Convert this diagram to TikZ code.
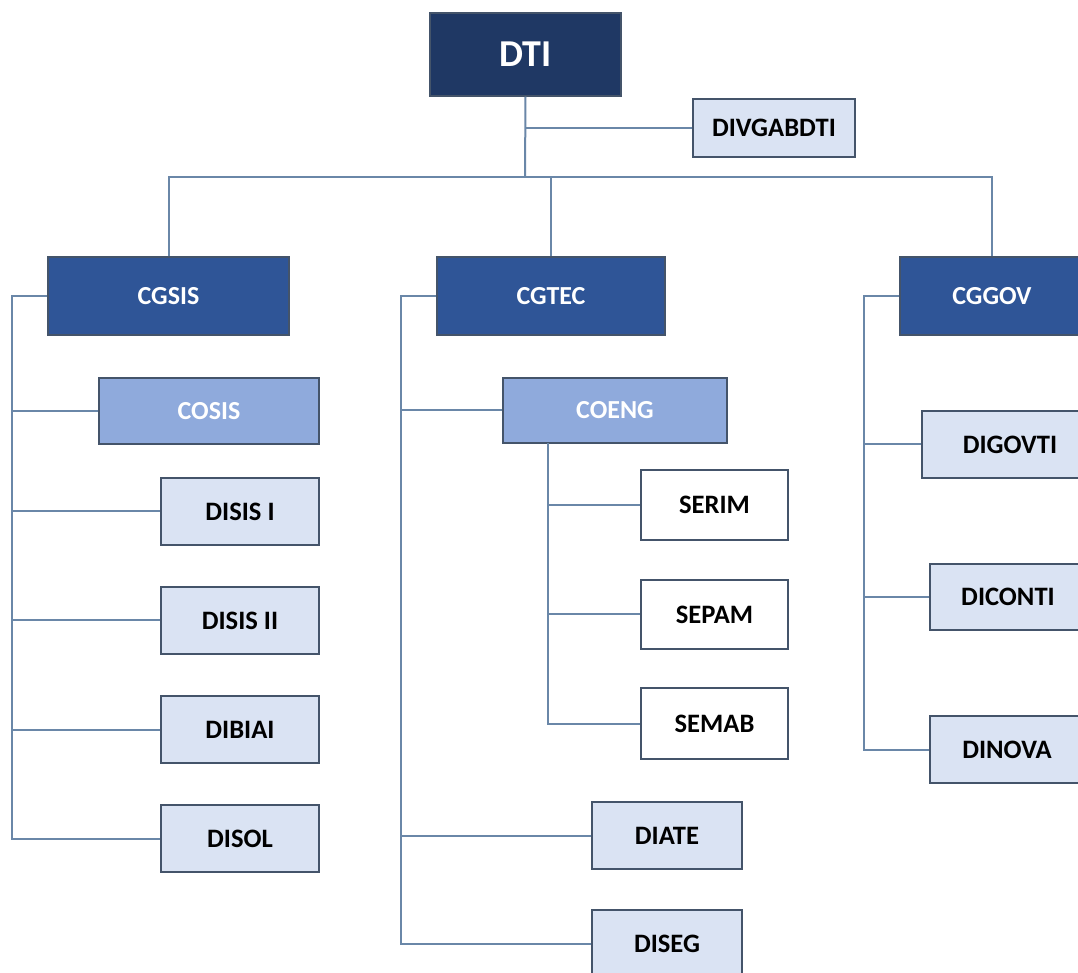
\documentclass[tikz,border=0pt]{standalone}
\usepackage{fontspec}
\setmainfont{Carlito}
\definecolor{navy}{HTML}{1F3864}
\definecolor{cgblue}{HTML}{2F5597}
\definecolor{coblue}{HTML}{8FAADC}
\definecolor{lightbox}{HTML}{DAE3F3}
\definecolor{boxline}{HTML}{44546A}
\definecolor{conn}{HTML}{6A87A8}
\tikzset{
  box/.style={draw=boxline, line width=0.6pt, inner sep=0pt, font=\bfseries},
  topbox/.style={box, fill=navy, text=white, font=\bfseries\fontsize{19}{21}\selectfont},
  cgbox/.style={box, fill=cgblue, text=white, font=\bfseries\fontsize{13}{15}\selectfont},
  cobox/.style={box, fill=coblue, text=white, font=\bfseries\fontsize{13}{15}\selectfont},
  dibox/.style={box, fill=lightbox, text=black, font=\bfseries\fontsize{13.3}{15}\selectfont},
  sebox/.style={box, fill=white, text=black, font=\bfseries\fontsize{13.3}{15}\selectfont},
  link/.style={draw=conn, line width=1pt},
}
\newcommand{\bx}[7]{% style, name, x1, y1, x2, y2, text
  \node[#1, minimum width={(#5-#3)*0.5pt}, minimum height={(#6-#4)*0.5pt}] (#2) at ({(#3+#5)/2},{(#4+#6)/2}) {#7};}
\begin{document}
\begin{tikzpicture}[x=0.5pt, y=-0.5pt]
\useasboundingbox (0,0) rectangle (1078,973);
\clip (0,0) rectangle (1078,973);
\fill[white] (0,0) rectangle (1078,973);
% nodes
\bx{topbox}{dti}{430}{13}{621}{96}{DTI}
\bx{dibox}{divgab}{693}{99}{855}{157}{DIVGABDTI}
\bx{cgbox}{cgsis}{48}{257}{289}{335}{CGSIS}
\bx{cgbox}{cgtec}{437}{257}{665}{335}{CGTEC}
\bx{cgbox}{cggov}{900}{257}{1084}{335}{CGGOV}
\bx{cobox}{cosis}{99}{378}{319}{444}{COSIS}
\bx{dibox}{disisi}{161}{478}{319}{545}{DISIS I}
\bx{dibox}{disisii}{161}{587}{319}{654}{DISIS II}
\bx{dibox}{dibiai}{161}{696}{319}{763}{DIBIAI}
\bx{dibox}{disol}{161}{805}{319}{872}{DISOL}
\bx{cobox}{coeng}{503}{378}{727}{443}{COENG}
\bx{sebox}{serim}{641}{470}{788}{540}{SERIM}
\bx{sebox}{sepam}{641}{580}{788}{649}{SEPAM}
\bx{sebox}{semab}{641}{688}{788}{759}{SEMAB}
\bx{dibox}{diate}{592}{802}{742}{869}{DIATE}
\bx{dibox}{diseg}{592}{910}{742}{978}{DISEG}
\bx{dibox}{digovti}{922}{411}{1098}{478}{DIGOVTI}
\bx{dibox}{diconti}{930}{564}{1086}{630}{DICONTI}
\bx{dibox}{dinova}{930}{716}{1084}{783}{DINOVA}
% helper coordinates
\coordinate (bus) at (525,177);
\coordinate (sl) at (12,297);
\coordinate (tl) at (401,297);
\coordinate (gl) at (864,297);
\coordinate (cev) at (548,443);
% connectors
\draw[link] (dti.south) -- (bus);
\draw[link] (dti.south |- divgab.west) -- (divgab.west);
\draw[link] (cgsis.north) |- (cggov.north |- bus) -- (cggov.north);
\draw[link] (cgtec.north) -- (cgtec.north |- bus);
% CGSIS branch
\draw[link] (cgsis.west) -- (cgsis.west -| sl) |- (disol.west);
\draw[link] (sl |- cosis.west) -- (cosis.west);
\draw[link] (sl |- disisi.west) -- (disisi.west);
\draw[link] (sl |- disisii.west) -- (disisii.west);
\draw[link] (sl |- dibiai.west) -- (dibiai.west);
% CGTEC branch
\draw[link] (cgtec.west) -- (cgtec.west -| tl) |- (diseg.west);
\draw[link] (tl |- coeng.west) -- (coeng.west);
\draw[link] (tl |- diate.west) -- (diate.west);
\draw[link] (cev) |- (semab.west);
\draw[link] (cev |- serim.west) -- (serim.west);
\draw[link] (cev |- sepam.west) -- (sepam.west);
% CGGOV branch
\draw[link] (cggov.west) -- (cggov.west -| gl) |- (dinova.west);
\draw[link] (gl |- digovti.west) -- (digovti.west);
\draw[link] (gl |- diconti.west) -- (diconti.west);
\end{tikzpicture}
\end{document}
